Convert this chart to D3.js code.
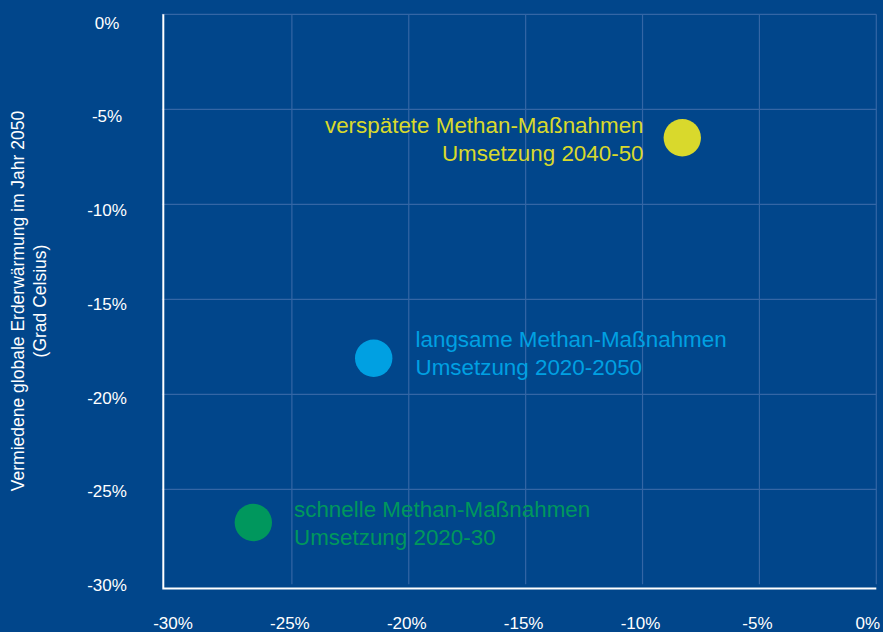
<!DOCTYPE html>
<html>
<head>
<meta charset="utf-8">
<script src="https://cdn.jsdelivr.net/npm/d3@7"></script>
<style>
	html, body { margin: 0; padding: 0; background: #01468b; }
	svg { display: block; font-family: 'Liberation Sans', Arial, Helvetica, sans-serif; }
</style>
</head>
<body>
<div id="chart"></div>
<script>
// Data
const scenarios = ['verspätete', 'langsame', 'schnelle'];
const methaneCut = [-8.3, -21.5, -26.65];       // x, %
const warmingAvoided = [-6.5, -18.1, -26.75];   // y, %
const labelLines = [
	['verspätete Methan-Maßnahmen', 'Umsetzung 2040-50'],
	['langsame Methan-Maßnahmen', 'Umsetzung 2020-2050'],
	['schnelle Methan-Maßnahmen', 'Umsetzung 2020-30']
];
const colors = ['#d9d92c', '#00a0e2', '#00975d'];
const xTicks = [-30, -25, -20, -15, -10, -5, 0];
const yTicks = [0, -5, -10, -15, -20, -25, -30];
const yTitle = ['Vermiedene globale Erderwärmung im Jahr 2050', '(Grad Celsius)'];

const width = 883, height = 632;
const bg = '#01468b';
const gridColor = '#3466a5';

const svg = d3.select('#chart').append('svg')
	.attr('width', width)
	.attr('height', height);

svg.append('rect')
	.attr('width', width)
	.attr('height', height)
	.attr('fill', bg);

// Scales
const x = d3.scaleLinear().domain([-30, 0]).range([175, 876.3]);
const y = d3.scaleLinear().domain([0, -30]).range([14.3, 584.3]);
// tick labels sit on a slightly tighter spread than the grid
const yLabel = d3.scaleLinear().domain([0, -30]).range([22.4, 585]);

const axisLeftX = 163.3, axisBottomY = 588.5;

// Grid lines
svg.append('g').selectAll('line')
	.data(yTicks.filter(d => d > -30))
.join('line')
	.attr('x1', axisLeftX - 1.5)
	.attr('x2', x(0))
	.attr('y1', d => y(d))
	.attr('y2', d => y(d))
	.attr('stroke', gridColor)
	.attr('stroke-width', 1.2);

svg.append('g').selectAll('line')
	.data(xTicks.filter(d => d > -30))
.join('line')
	.attr('x1', d => x(d))
	.attr('x2', d => x(d))
	.attr('y1', y(0))
	.attr('y2', y(-30))
	.attr('stroke', gridColor)
	.attr('stroke-width', 1.2);

// Axis lines
svg.append('path')
	.attr('d', 'M' + axisLeftX + ',' + y(0) + 'V' + axisBottomY + 'H' + x(0))
	.attr('fill', 'none')
	.attr('stroke', '#fff')
	.attr('stroke-width', 2);

// Tick labels
svg.append('g').selectAll('text')
	.data(yTicks)
.join('text')
	.attr('x', 107)
	.attr('y', d => yLabel(d))
	.attr('dy', '0.36em')
	.attr('text-anchor', 'middle')
	.attr('fill', '#fff')
	.style('font-size', '17px')
	.text(d => d + '%');

svg.append('g').selectAll('text')
	.data(xTicks)
.join('text')
	.attr('x', d => d === 0 ? 880 : x(d) - 2)
	.attr('y', 629.3)
	.attr('text-anchor', d => d === 0 ? 'end' : 'middle')
	.attr('fill', '#fff')
	.style('font-size', '17px')
	.text(d => d + '%');

// Y axis title
svg.append('text')
	.attr('transform', 'translate(24,301) rotate(-90)')
	.attr('text-anchor', 'middle')
	.attr('fill', '#fff')
	.style('font-size', '17.5px')
.selectAll('tspan')
	.data(yTitle)
.join('tspan')
	.attr('x', 0)
	.attr('y', (d, i) => i * 21.7)
	.text(d => d);

// Points
const points = scenarios.map((s, i) => ({
	'name': s,
	'x': methaneCut[i],
	'y': warmingAvoided[i],
	'color': colors[i],
	'lines': labelLines[i]
}));

svg.append('g').selectAll('circle')
	.data(points)
.join('circle')
	.attr('cx', d => x(d.x))
	.attr('cy', d => y(d.y))
	.attr('r', 18.7)
	.attr('fill', d => d.color);

// Annotations: first one sits left of its dot, the others right
const labelPos = [
	{ 'dx': -38.7, 'dy': -5, 'anchor': 'end' },
	{ 'dx': 41.8, 'dy': -11, 'anchor': 'start' },
	{ 'dx': 40.7, 'dy': -5.5, 'anchor': 'start' }
];

svg.append('g').selectAll('text')
	.data(points)
.join('text')
	.attr('text-anchor', (d, i) => labelPos[i].anchor)
	.attr('fill', d => d.color)
	.style('font-size', '22.4px')
	.each(function(d, i) {
		const px = x(d.x) + labelPos[i].dx;
		const py = y(d.y) + labelPos[i].dy;
		d3.select(this).selectAll('tspan')
			.data(d.lines)
		.join('tspan')
			.attr('x', px)
			.attr('y', (t, j) => py + j * 27.8)
			.text(t => t);
	});
</script>
</body>
</html>
